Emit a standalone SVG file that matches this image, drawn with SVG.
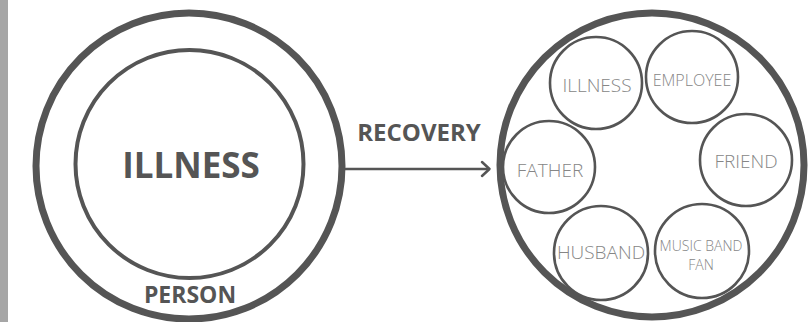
<svg xmlns="http://www.w3.org/2000/svg" width="808" height="322" viewBox="0 0 808 322">
<style>
.big{fill:none;stroke:#555;stroke-width:7}
.inner{fill:none;stroke:#555;stroke-width:4}
.small{fill:none;stroke:#555;stroke-width:2.6}
.bold{font-family:"Open Sans","Liberation Sans",sans-serif;font-weight:bold;fill:#555;text-anchor:middle}
.lt{font-family:"Open Sans","Liberation Sans",sans-serif;font-weight:300;fill:#868686;text-anchor:middle}
</style>
<rect x="0" y="0" width="808" height="322" fill="#fff"/>
<rect x="0" y="0" width="8" height="322" fill="#a6a6a6"/>
<g id="person">
<circle class="big" cx="189" cy="166" r="153"/>
<text class="bold" x="190" y="303" font-size="23">PERSON</text>
</g>
<g id="illness">
<circle class="inner" cx="189.5" cy="164" r="114"/>
<text class="bold" x="191" y="178" font-size="35">ILLNESS</text>
</g>
<g id="connectors">
<line x1="345" y1="169" x2="489" y2="169" stroke="#555" stroke-width="2.5"/>
<polyline points="482,162 489.5,169 482,176" fill="none" stroke="#555" stroke-width="2.5" stroke-linecap="round" stroke-linejoin="round"/>
<text class="bold" x="419" y="141" font-size="24">RECOVERY</text>
</g>
<g id="recovered">
<circle class="big" cx="652" cy="165" r="152"/>
</g>
<g id="n-illness">
<circle class="small" cx="596" cy="83" r="46"/>
<text class="lt" x="597" y="92" font-size="19">ILLNESS</text>
</g>
<g id="n-employee">
<circle class="small" cx="692" cy="77" r="46"/>
<text class="lt" x="692" y="86" font-size="16">EMPLOYEE</text>
</g>
<g id="n-friend">
<circle class="small" cx="746" cy="160" r="46"/>
<text class="lt" x="746" y="168" font-size="19">FRIEND</text>
</g>
<g id="n-father">
<circle class="small" cx="549" cy="167" r="46"/>
<text class="lt" x="550" y="177" font-size="19">FATHER</text>
</g>
<g id="n-husband">
<circle class="small" cx="601" cy="253" r="47"/>
<text class="lt" x="601" y="259" font-size="19">HUSBAND</text>
</g>
<g id="n-music">
<circle class="small" cx="702" cy="251" r="47"/>
<text class="lt" x="701" y="251" font-size="14">MUSIC BAND</text>
<text class="lt" x="701" y="270" font-size="14">FAN</text>
</g>
</svg>
